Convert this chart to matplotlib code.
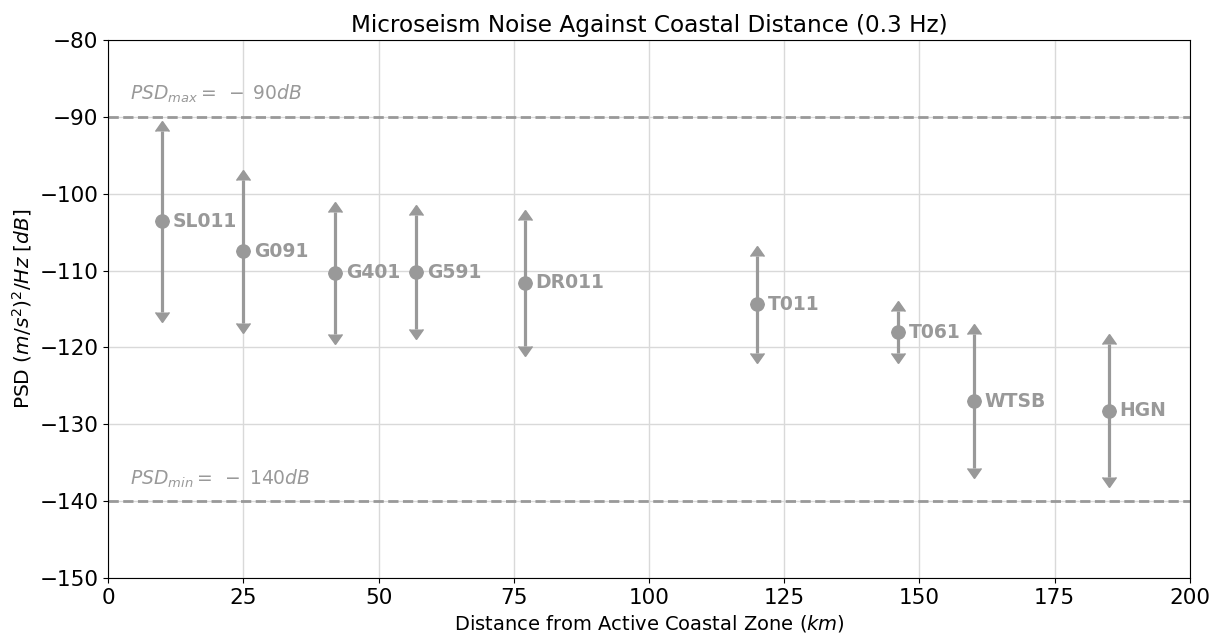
import numpy as np
import matplotlib.pyplot as plt

# station data
stations = ["SL011", "G091", "G401", "G591", "DR011", "T011", "T061", "WTSB", "HGN"]
distance = [10, 25, 42, 57, 77, 120, 146, 160, 185]
psd_mean = [-103.6, -107.5, -110.3, -110.2, -111.6, -114.4, -118.0, -127.0, -128.2]
psd_err = [11.8, 9.3, 7.9, 7.4, 8.2, 6.3, 2.7, 8.7, 8.7]
psd_max = -90
psd_min = -140

grey = '#999999'
plt.rcParams['font.size'] = 14

fig = plt.figure(figsize=(12.18, 6.37), dpi=100)
ax = fig.add_subplot(111)
fig.subplots_adjust(left=0.0887, right=0.977, top=0.937, bottom=0.0926)

ax.grid(True, color='#d9d9d9', lw=1)
ax.set_axisbelow(True)

ax.axhline(psd_max, color=grey, ls='--', lw=2)
ax.axhline(psd_min, color=grey, ls='--', lw=2)
ax.text(4, psd_max + 2.2, r"$PSD_{max} =\;-\;90dB$", color=grey, fontsize=13.5)
ax.text(4, psd_min + 2.2, r"$PSD_{min} =\;-\;140dB$", color=grey, fontsize=13.5)

zeros = np.zeros(len(psd_err))
# upward arrows
ax.errorbar(distance, psd_mean, yerr=[zeros, psd_err], fmt='none', ecolor=grey,
            color=grey, lw=2.3, lolims=True, capsize=5)
# downward arrows
ax.errorbar(distance, psd_mean, yerr=[psd_err, zeros], fmt='none', ecolor=grey,
            color=grey, lw=2.3, uplims=True, capsize=5)
ax.plot(distance, psd_mean, 'o', color=grey, ms=9.5)

for name, x, y in zip(stations, distance, psd_mean):
    ax.text(x + 2, y, name, color=grey, fontweight='bold', va='center', fontsize=13.5)

ax.set_xlim(0, 200)
ax.set_ylim(-150, -80)
ax.tick_params(labelsize=15.5)
ax.set_title("Microseism Noise Against Coastal Distance (0.3 Hz)", fontsize=16.7)
ax.set_xlabel("Distance from Active Coastal Zone ($km$)", fontsize=14)
ax.set_ylabel("PSD $(m/s^2)^2/Hz$ $[dB]$", fontsize=14.5)

plt.savefig("out.png")
